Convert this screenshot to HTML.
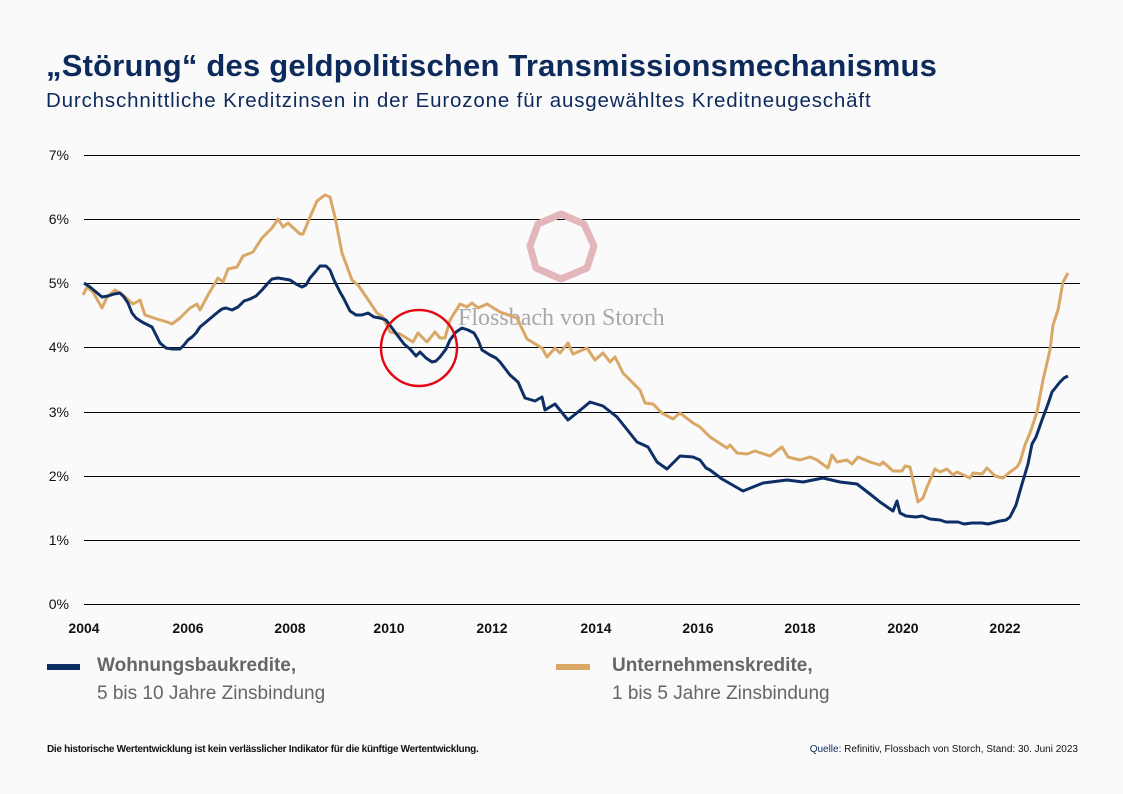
<!DOCTYPE html>
<html><head><meta charset="utf-8"><style>
body{margin:0;background:#fafafa;}
svg{display:block;font-family:"Liberation Sans",sans-serif;}
</style></head><body>
<svg width="1123" height="794" viewBox="0 0 1123 794">
<rect width="1123" height="794" fill="#fafafa"/>
<text x="46" y="76" font-size="31" font-weight="bold" fill="#0d2a5c" letter-spacing="0.2">„Störung“ des geldpolitischen Transmissionsmechanismus</text>
<text x="46" y="107" font-size="20.5" fill="#0d2a5c" letter-spacing="0.85">Durchschnittliche Kreditzinsen in der Eurozone für ausgewähltes Kreditneugeschäft</text>
<g stroke="#000" stroke-width="1">
<line x1="84" y1="155.5" x2="1080" y2="155.5"/><line x1="84" y1="219.5" x2="1080" y2="219.5"/>
<line x1="84" y1="283.5" x2="1080" y2="283.5"/><line x1="84" y1="347.5" x2="1080" y2="347.5"/>
<line x1="84" y1="412.5" x2="1080" y2="412.5"/><line x1="84" y1="476.5" x2="1080" y2="476.5"/>
<line x1="84" y1="540.5" x2="1080" y2="540.5"/><line x1="84" y1="604.5" x2="1080" y2="604.5"/>
</g>
<g font-size="14" fill="#111" text-anchor="end">
<text x="69" y="160">7%</text><text x="69" y="224">6%</text><text x="69" y="288">5%</text><text x="69" y="352">4%</text>
<text x="69" y="417">3%</text><text x="69" y="481">2%</text><text x="69" y="545">1%</text><text x="69" y="609">0%</text>
</g>
<g font-size="14" font-weight="bold" fill="#111" text-anchor="middle">
<text x="84" y="633">2004</text><text x="188" y="633">2006</text><text x="290" y="633">2008</text><text x="389" y="633">2010</text><text x="492" y="633">2012</text>
<text x="596" y="633">2014</text><text x="698" y="633">2016</text><text x="800" y="633">2018</text><text x="903" y="633">2020</text><text x="1005" y="633">2022</text>
</g>
<polygon points="561,214 584,224 594,246 587,268 561,279 536,268 530,246 538,224" fill="none" stroke="#e2b6ba" stroke-width="7" stroke-linejoin="round"/>
<text x="458" y="325" font-family="Liberation Serif,serif" font-size="24" fill="#a8a8a8">Flossbach von Storch</text>
<polyline fill="none" stroke="#d9a766" stroke-width="3" stroke-linejoin="round" points="83,295 87,287 93,292 102,308 107,297 115,290 123,295 133,304 140,300 145,315 157,319 167,322 172,324 180,318 190,308 197,304 200,310 208,295 218,278 223,282 228,269 237,267 243,256 253,252 262,238 272,228 278,219 283,227 288,223 300,234 303,234 310,217 317,201 325,195 330,197 335,217 342,253 352,280 358,285 367,298 377,313 383,317 390,332 400,334 413,342 418,333 427,342 435,332 440,338 445,338 450,320 460,304 467,307 472,303 478,308 487,304 500,312 517,318 527,339 542,348 547,357 555,348 560,353 568,343 573,354 587,348 595,360 603,353 610,362 615,357 623,373 640,390 645,403 653,404 662,413 673,419 680,413 693,423 700,427 710,437 727,448 730,445 737,453 747,454 755,451 770,456 782,447 788,457 800,460 810,457 817,460 828,468 832,455 837,462 847,460 852,464 858,457 870,462 880,465 883,462 893,471 902,471 905,466 910,467 918,502 923,498 927,487 935,469 940,472 947,469 953,475 957,472 970,478 973,473 982,474 987,468 995,476 1003,478 1010,472 1017,467 1020,462 1025,445 1030,433 1037,412 1043,380 1050,350 1053,325 1058,310 1063,282 1068,273"/>
<polyline fill="none" stroke="#0d2f66" stroke-width="3" stroke-linejoin="round" points="84,283 90,287 96,292 102,297 108,296 114,294 120,293 124,297 128,303 132,313 136,318 142,322 148,325 152,327 156,335 160,343 166,348 172,349 180,349 184,345 188,340 192,337 196,333 200,327 206,322 212,317 218,312 222,309 226,308 232,310 238,307 244,301 250,299 256,296 262,290 268,283 272,279 278,278 284,279 290,280 296,284 302,287 306,285 310,278 316,271 320,266 326,266 330,270 334,280 340,292 344,299 350,311 356,315 362,315 368,313 374,317 380,318 386,320 392,328 398,336 404,344 410,349 416,356 420,352 426,358 432,362 436,361 440,357 446,349 450,340 456,332 462,328 468,330 474,333 478,340 482,350 490,355 496,358 500,362 510,375 518,382 525,398 535,401 542,397 545,410 555,404 568,420 578,412 590,402 603,406 617,417 637,442 648,447 657,462 667,469 680,456 693,457 700,460 706,468 710,470 722,479 743,491 763,483 787,480 803,482 823,478 840,482 857,484 870,494 880,502 893,511 897,501 900,513 906,516 916,517 922,516 930,519 940,520 946,522 958,522 964,524 972,523 982,523 988,524 1000,521 1006,520 1010,517 1016,505 1022,484 1028,464 1032,444 1036,437 1042,420 1048,404 1052,392 1056,387 1060,382 1064,378 1068,376"/>
<circle cx="419" cy="348" r="38" fill="none" stroke="#e30613" stroke-width="2.5"/>
<rect x="47" y="664" width="33" height="6" fill="#0d2f66"/>
<text x="97" y="671" font-size="19" font-weight="bold" fill="#666">Wohnungsbaukredite,</text>
<text x="97" y="699" font-size="19" fill="#666">5 bis 10 Jahre Zinsbindung</text>
<rect x="556" y="664" width="34" height="6" fill="#d9a766"/>
<text x="612" y="671" font-size="19" font-weight="bold" fill="#666">Unternehmenskredite,</text>
<text x="612" y="699" font-size="19" fill="#666">1 bis 5 Jahre Zinsbindung</text>
<text x="47" y="752" font-size="10" font-weight="bold" fill="#111" letter-spacing="-0.3">Die historische Wertentwicklung ist kein verlässlicher Indikator für die künftige Wertentwicklung.</text>
<text x="1078" y="752" font-size="10" fill="#111" text-anchor="end"><tspan fill="#0d2a5c">Quelle:</tspan> Refinitiv, Flossbach von Storch, Stand: 30. Juni 2023</text>
</svg>
</body></html>
